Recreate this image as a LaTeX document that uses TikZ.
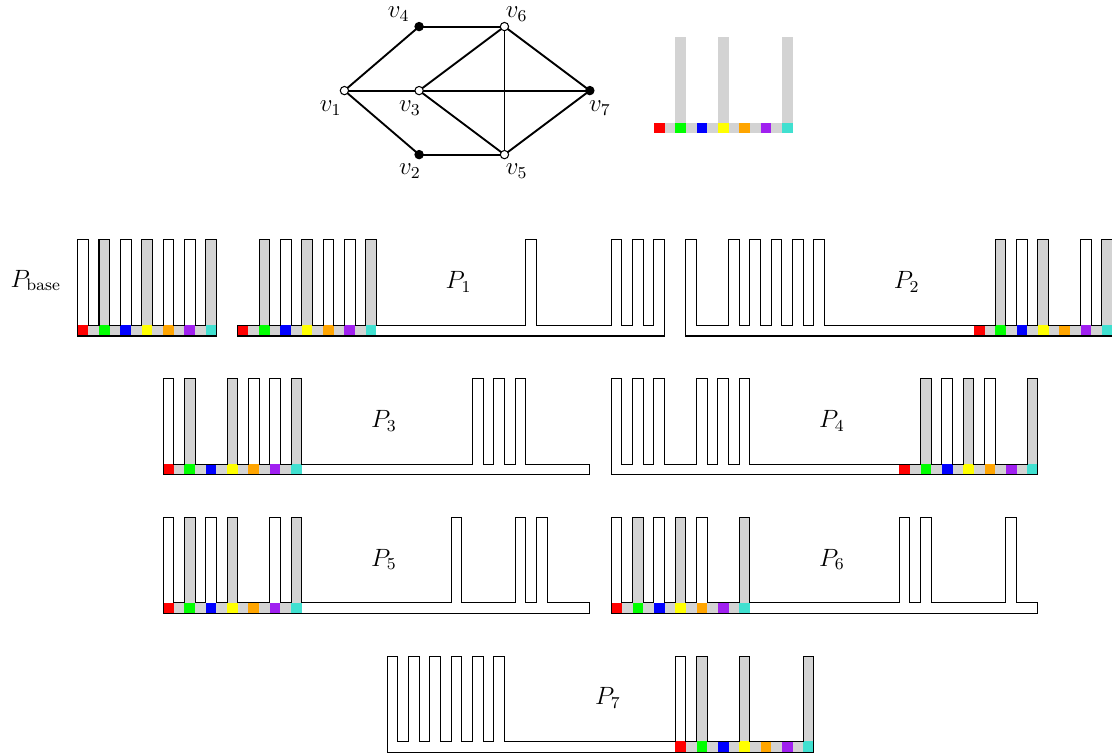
\documentclass[tikz,border=0pt]{standalone}
\usetikzlibrary{calc,backgrounds}

\definecolor{cellgray}{RGB}{211,211,211}
\definecolor{cred}{RGB}{255,0,0}
\definecolor{cgreen}{RGB}{0,255,0}
\definecolor{cblue}{RGB}{0,0,255}
\definecolor{cyellow}{RGB}{255,255,0}
\definecolor{corange}{RGB}{255,165,0}
\definecolor{cpurple}{RGB}{160,32,240}
\definecolor{cturq}{RGB}{64,224,208}

% row of seven coloured cells on a grey strip, starting at x = #1
\newcommand{\colourrow}[1]{%
  \fill[cellgray] (#1,0) rectangle ++(13,1);
  \foreach \c [count=\i from 0] in {cred,cgreen,cblue,cyellow,corange,cpurple,cturq}
    \fill[\c] (#1+2*\i,0) rectangle ++(1,1);
}

% comb: #1 origin, #2 width, #3 teeth (right to left), #4 start of coloured cells, #5 grey teeth
\newcommand{\comb}[5]{%
  \begin{scope}[shift={(#1)}]
    \colourrow{#4}
    \foreach \t in {#5} \fill[cellgray] (\t,1) rectangle ++(1,8);
    \draw[outline] (0,0) -- (#2,0) -- (#2,1)
      \foreach \t in {#3} { -- (\t+1,1) -- (\t+1,9) -- (\t,9) -- (\t,1) } -- (0,1) -- cycle;
  \end{scope}}

\begin{document}
\begin{tikzpicture}[x=0.18cm, y=0.18cm, font=\large,
  outline/.style={draw=black, line width=0.5pt, line join=miter},
  edge/.style={line width=0.9pt},
  openv/.style={circle, draw=black, fill=white, line width=0.5pt, inner sep=0pt, minimum size=4pt},
  fullv/.style={circle, draw=black, fill=black, line width=0.5pt, inner sep=0pt, minimum size=4pt},
  plabel/.style={inner sep=0pt}]
\useasboundingbox (-7.28,-39.27) rectangle (96.94,31.49);

% ---------- graph ----------
\node[openv] (v1) at (25,23) {};
\node[openv] (v3) at (32,23) {};
\node[fullv] (v4) at (32,29) {};
\node[fullv] (v2) at (32,17) {};
\node[openv] (v6) at (40,29) {};
\node[openv] (v5) at (40,17) {};
\node[fullv] (v7) at (48,23) {};

\begin{scope}[on background layer]
  \draw[edge] (v1.center) -- (v4.center);
  \draw[edge] (v1.center) -- (v3.center);
  \draw[edge] (v1.center) -- (v2.center);
  \draw[edge] (v4.center) -- (v6.center);
  \draw[edge] (v2.center) -- (v5.center);
  \draw[edge] (v3.center) -- (v6.center);
  \draw[edge] (v3.center) -- (v7.center);
  \draw[edge] (v3.center) -- (v5.center);
  \draw[edge] (v6.center) -- (v5.center);
  \draw[edge] (v6.center) -- (v7.center);
  \draw[edge] (v5.center) -- (v7.center);
\end{scope}

\node[plabel] (lv1) at ($(v1)+(-1.28,-1.66)$) {$v_1$};
\node[plabel] (lv2) at ($(v2)+(-0.86,-1.52)$) {$v_2$};
\node[plabel] (lv3) at ($(v3)+(-0.86,-1.66)$) {$v_3$};
\node[plabel] (lv4) at ($(v4)+(-1.92,1.18)$) {$v_4$};
\node[plabel] (lv5) at ($(v5)+(1.14,-1.52)$) {$v_5$};
\node[plabel] (lv6) at ($(v6)+(1.14,1.18)$) {$v_6$};
\node[plabel] (lv7) at ($(v7)+(0.95,-1.66)$) {$v_7$};

% ---------- colour key ----------
\begin{scope}[shift={(54,19)}]
  \colourrow{0}
  \foreach \t in {2,6,12} \fill[cellgray] (\t,1) rectangle ++(1,8);
\end{scope}

% ---------- combs ----------
\comb{0,0}{13}{12,10,8,6,4,2,0}{0}{2,6,12}
\node[plabel] (pbase) at (-3.93,5.2) {$P_{\mathrm{base}}$};

\comb{15,0}{40}{39,37,35,27,12,10,8,6,4,2}{0}{2,6,12}
\node[plabel] (p1) at (15+20.7,5.05) {$P_1$};

\comb{57,0}{40}{39,37,33,31,29,12,10,8,6,4,0}{27}{29,33,39}
\node[plabel] (p2) at (57+20.7,5.05) {$P_2$};

\comb{8,-13}{40}{33,31,29,12,10,8,6,2,0}{0}{2,6,12}
\node[plabel] (p3) at (8+20.7,-13+5.05) {$P_3$};

\comb{50,-13}{40}{39,35,33,31,29,12,10,8,4,2,0}{27}{29,33,39}
\node[plabel] (p4) at (50+20.7,-13+5.05) {$P_4$};

\comb{8,-26}{40}{35,33,27,12,10,6,4,2,0}{0}{2,6,12}
\node[plabel] (p5) at (8+20.7,-26+5.05) {$P_5$};

\comb{50,-26}{40}{37,29,27,12,8,6,4,2,0}{0}{2,6,12}
\node[plabel] (p6) at (50+20.7,-26+5.05) {$P_6$};

\comb{29,-39}{40}{39,33,29,27,10,8,6,4,2,0}{27}{29,33,39}
\node[plabel] (p7) at (29+20.7,-39+5.05) {$P_7$};

\end{tikzpicture}
\end{document}
